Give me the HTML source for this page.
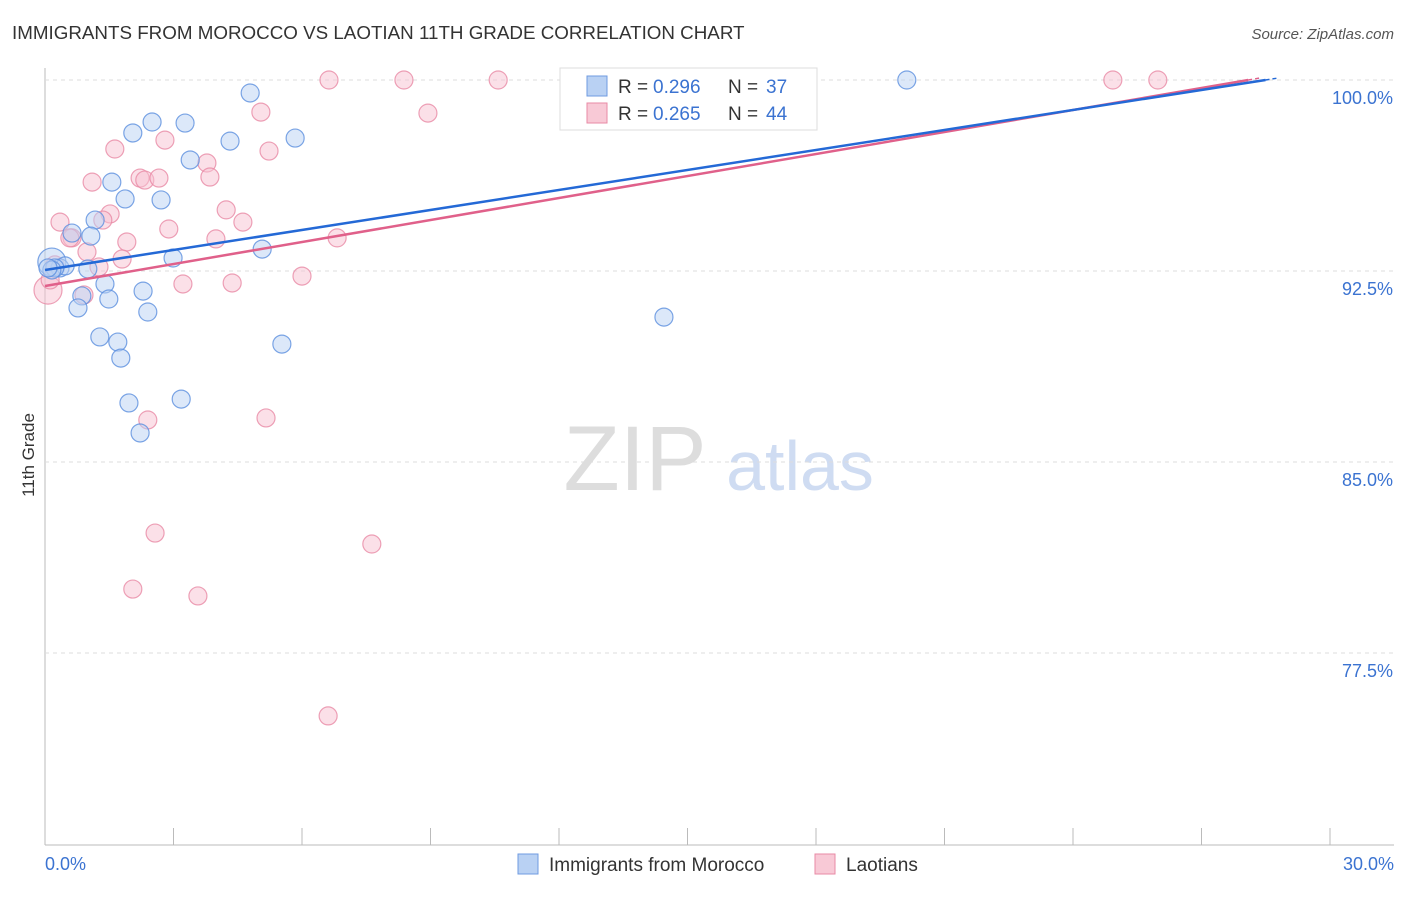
<!DOCTYPE html>
<html><head><meta charset="utf-8"><style>
body{margin:0;background:#fff;font-family:"Liberation Sans",sans-serif}
svg text{font-family:"Liberation Sans",sans-serif}
</style></head><body>
<svg id="c" width="1406" height="892">
<text x="12" y="39" font-size="18.8" fill="#333">IMMIGRANTS FROM MOROCCO VS LAOTIAN 11TH GRADE CORRELATION CHART</text>
<text x="1394" y="39" font-size="15" fill="#555" text-anchor="end" font-style="italic">Source: ZipAtlas.com</text>
<text x="34" y="455" font-size="17" fill="#333" text-anchor="middle" transform="rotate(-90 34 455)">11th Grade</text>
<g><text x="635" y="490" font-size="92" fill="#ddd" text-anchor="middle" font-family="Liberation Serif">ZIP</text><text x="800" y="490" font-size="70" fill="#cfdcf2" text-anchor="middle">atlas</text></g>
<g id="grid"></g><g id="pts"></g><g id="lines"></g>
<g>
<rect x="560" y="68" width="257" height="62" fill="#fff" stroke="#ddd"/>
<rect x="587" y="76" width="20" height="20" fill="#b9d1f3" stroke="#6f9be0"/>
<text x="618" y="93" font-size="19" fill="#333">R =</text>
<text x="653" y="93" font-size="19" fill="#3b73d1">0.296</text>
<text x="728" y="93" font-size="19" fill="#333">N =</text>
<text x="766" y="93" font-size="19" fill="#3b73d1">37</text>
<rect x="587" y="103" width="20" height="20" fill="#f8c9d6" stroke="#e88aa5"/>
<text x="618" y="120" font-size="19" fill="#333">R =</text>
<text x="653" y="120" font-size="19" fill="#3b73d1">0.265</text>
<text x="728" y="120" font-size="19" fill="#333">N =</text>
<text x="766" y="120" font-size="19" fill="#3b73d1">44</text>
</g>
<g>
<rect x="518" y="854" width="20" height="20" fill="#b9d1f3" stroke="#6f9be0"/>
<text x="549" y="871" font-size="19" fill="#333">Immigrants from Morocco</text>
<rect x="815" y="854" width="20" height="20" fill="#f8c9d6" stroke="#e88aa5"/>
<text x="846" y="871" font-size="19" fill="#333">Laotians</text>
</g>
</svg>
<script>
const blueX=[0.16,4.79,2.50,3.27,2.05,4.32,5.84,3.39,1.56,1.87,2.71,1.17,0.63,1.07,2.99,5.07,0.35,1.00,1.40,2.29,0.86,1.49,0.77,2.40,1.28,1.70,1.77,5.53,1.96,3.18,2.22,14.45,20.12,0.47,0.23,0.16,0.07];
const blueY=[92.85,99.49,98.35,98.31,97.92,97.60,97.72,96.86,95.99,95.33,95.29,94.50,93.99,93.87,93.01,93.36,92.62,92.58,91.99,91.71,91.52,91.40,91.05,90.89,89.91,89.71,89.08,89.63,87.32,87.47,86.14,90.69,100,92.70,92.62,92.54,92.62];
const pinkX=[0.07,6.63,8.38,10.58,24.93,25.98,5.04,8.94,2.80,1.63,5.23,3.78,1.10,2.22,2.33,2.66,3.85,0.35,4.23,1.52,4.62,1.35,0.63,2.89,1.91,3.99,6.82,0.98,1.80,1.26,6.00,3.22,4.37,0.91,2.40,5.16,2.57,7.63,2.05,3.57,6.61,0.58,0.23,0.12];
const pinkY=[91.75,100,100,100,100,100,98.74,98.70,97.64,97.29,97.21,96.74,95.99,96.15,96.07,96.15,96.19,94.42,94.90,94.74,94.42,94.50,93.80,94.15,93.64,93.76,93.80,93.25,92.97,92.66,92.30,91.99,92.03,91.56,86.65,86.73,82.21,81.78,80.01,79.74,75.03,93.80,92.74,92.15];
const blueTrend=[92.54,0.2618];
const pinkTrend=[91.91,0.288];
const yTicks=[100,92.5,85,77.5];
const yTickLabels=["100.0%","92.5%","85.0%","77.5%"];
const xTicks=[0,3,6,9,12,15,18,21,24,27,30];
const xs=v=>45+v/30*1285, ys=v=>80+(100-v)/7.5*191;
const NS="http://www.w3.org/2000/svg";
function mk(t,a,p){const e=document.createElementNS(NS,t);for(const k in a)e.setAttribute(k,a[k]);p.appendChild(e);return e;}
const g=document.getElementById('grid');
let ax=mk('line',{x1:45,y1:68,x2:45,y2:845,stroke:'#bbb'},g);

let bx=mk('line',{x1:45,y1:845,x2:1394,y2:845,stroke:'#bbb'},g);

yTicks.forEach((v,i)=>{
 const l=mk('line',{x1:45,x2:1394,y1:ys(v),y2:ys(v),stroke:'#ddd','stroke-dasharray':'4 4'},g);
 
 const t=mk('text',{x:1393,y:ys(v)+24,'font-size':18,fill:'#3b73d1','text-anchor':'end'},g);
 t.textContent=yTickLabels[i];
 
});
xTicks.forEach(v=>{
 const l=mk('line',{x1:xs(v),x2:xs(v),y1:828,y2:845,stroke:'#bbb'},g);
 
});
[[0,"0.0%",'start',45],[30,"30.0%",'end',1394]].forEach(a=>{
 const t=mk('text',{x:a[3],y:870,'font-size':18,fill:'#3b73d1','text-anchor':a[2]},g);t.textContent=a[1];
 
});
const P=document.getElementById('pts');
function pts(X,Y,fill,stroke,name){X.forEach((x,i)=>{
 const c=mk('circle',{cx:xs(x),cy:ys(Y[i]),r:(i==0?14:9),fill:fill,'fill-opacity':0.5,stroke:stroke,'stroke-opacity':0.8,'stroke-width':1.2},P);
 
});}
pts(pinkX,pinkY,'#f8c2d2','#e88aa5','laotians-point');
pts(blueX,blueY,'#b9d1f3','#5b8ede','morocco-point');
const L=document.getElementById('lines');
function trend(tr,col,name){
 const xe=(100-tr[0])/tr[1];
 const l=mk('line',{x1:xs(0),y1:ys(tr[0]),x2:xs(xe),y2:ys(100),stroke:col,'stroke-width':2.5},L);
 
 const d=mk('line',{x1:xs(xe),y1:ys(100),x2:xs(xe+0.3),y2:ys(tr[0]+tr[1]*(xe+0.3)),stroke:col,'stroke-width':1.5,'stroke-dasharray':'4 3'},L);
 
}
trend(pinkTrend,'#e0608a','laotians-trendline');
trend(blueTrend,'#2469d6','morocco-trendline');
</script>
</body></html>
